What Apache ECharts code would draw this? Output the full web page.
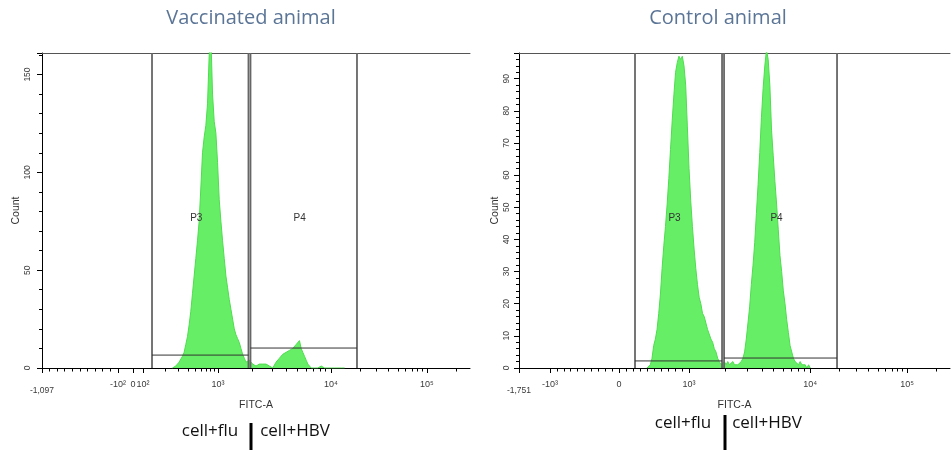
<!DOCTYPE html>
<html>
<head>
<meta charset="utf-8">
<title>FITC-A histograms</title>
<script src="https://cdn.jsdelivr.net/npm/echarts@6.0.0/dist/echarts.min.js"></script>
<style>
html, body { margin: 0; padding: 0; background: #fff; }
#chart { width: 951px; height: 450px; }
</style>
</head>
<body>
<div id="chart"></div>
<script>
// histogram counts per display channel (256-channel FITC-A scale)
var vacStart = 78;
var vacCounts = [0, 0, 1, 2, 3, 4, 6, 8, 12, 16, 22, 29, 38, 47, 56, 65, 75, 92, 110, 118,
  124, 135, 160, 170, 140, 126, 120, 105, 86, 75, 65, 56, 47, 41, 35, 30, 25, 20, 17, 15,
  13, 10, 7, 5, 3, 2, 4, 3, 2, 3, 1, 2, 2, 1, 2, 1, 2, 1, 1, 1,
  0, 1, 3, 4, 5, 6, 7, 7, 8, 8, 9, 9, 10, 11, 12, 13, 14, 10, 8, 6,
  4, 2, 1, 0, 1, 0, 1, 0, 0, 1, 0, 0, 0, 0, 0, 0, 1, 0, 0, 0, 0, 0, 1, 0];

var ctlStart = 76;
var ctlCounts = [0, 0, 1, 3, 7, 9, 12, 17, 23, 31, 38, 44, 51, 59, 68, 77, 85, 92, 95, 97,
  96, 97, 94, 88, 75, 62, 52, 44, 37, 31, 26, 22, 20, 17, 16, 14, 12, 12, 9, 8,
  6, 5, 3, 2, 1, 1, 2, 1, 2, 1, 1, 2, 1, 1, 1, 1, 2, 3, 5, 9,
  14, 19, 26, 32, 39, 48, 57, 67, 78, 87, 94, 99, 96, 88, 74, 66, 58, 51, 43, 35,
  30, 24, 20, 15, 11, 7, 5, 3, 2, 2, 1, 2, 1, 1, 1, 0, 1, 0];

// x axis anchors: FITC-A value, display channel, label
var vacTickValues = [-1097, -100, 0, 100, 1000, 10000, 100000];
var vacTickChannels = [0, 45.4, 54.4, 60.4, 105.2, 172.8, 230.2];
var vacTickLabels = ['-1,097', '-10²', '0', '10²', '10³', '10⁴', '10⁵'];

var ctlTickValues = [-1751, -1000, 0, 1000, 10000, 100000];
var ctlTickChannels = [0, 18.4, 59.4, 101, 172.9, 230.5];
var ctlTickLabels = ['-1,751', '-10³', '0', '10³', '10⁴', '10⁵'];

// gates: name, from channel, to channel, level (count)
var vacGates = [['P3', 65.8, 123.5, 6.6], ['P4', 124.7, 188.4, 10.2]];
var ctlGates = [['P3', 68.9, 120.6, 2.2], ['P4', 121.8, 188.9, 3.1]];

var vacMaxCount = 161;
var ctlMaxCount = 98;

function toChannel(v, vals, chans) {
  var i = 0;
  while (i < vals.length - 2 && v > vals[i + 1]) i++;
  var a = vals[i], b = vals[i + 1], t;
  if (a > 0 && b > 0) t = Math.log(v / a) / Math.log(b / a);
  else t = (v - a) / (b - a);
  return chans[i] + t * (chans[i + 1] - chans[i]);
}

function minorValues(negFrom, negTo, linPos) {
  var out = [];
  for (var v = negFrom; v <= negTo; v += 100) out.push(v);
  if (linPos) for (var p = 100; p <= 900; p += 100) out.push(p);
  var decades = linPos ? [1000, 10000, 100000] : [100, 1000, 10000, 100000];
  decades.forEach(function (d) {
    for (var k = 2; k <= 9; k++) {
      if (d === 100000 && k > 2) break;
      out.push(k * d);
    }
  });
  return out;
}

var vacMinor = minorValues(-1000, -200, false).map(function (v) {
  return toChannel(v, vacTickValues, vacTickChannels);
});
var ctlMinor = minorValues(-900, -100, true).map(function (v) {
  return toChannel(v, ctlTickValues, ctlTickChannels);
});

function histData(start, counts) {
  return counts.map(function (c, i) { return [start + i, c]; });
}

var labelFont = 'Arial, "Liberation Sans", "DejaVu Sans", sans-serif';

function xAxes(grid, chans, labels, minor) {
  return [{
    gridIndex: grid, type: 'value', min: 0, max: 256, position: 'bottom',
    axisLine: { show: true, onZero: false, lineStyle: { color: '#000', width: 1 } },
    axisTick: { show: true, customValues: chans, length: 5, lineStyle: { color: '#000' } },
    axisLabel: {
      customValues: chans, fontSize: 9, color: '#3a3a3a', margin: 12, fontFamily: labelFont,
      formatter: function (val) {
        for (var i = 0; i < chans.length; i++) {
          if (Math.abs(chans[i] - val) < 1e-6) return i === 0 ? '{lo|' + labels[i] + '}' : labels[i];
        }
        return '';
      },
      rich: { lo: { fontSize: 8.5, color: '#3a3a3a', fontFamily: labelFont, padding: [6, 0, 0, 0] } }
    },
    splitLine: { show: false },
    name: 'FITC-A', nameLocation: 'middle', nameGap: 26,
    nameTextStyle: { fontSize: 10.5, color: '#333', fontFamily: labelFont }
  }, {
    gridIndex: grid, type: 'value', min: 0, max: 256, position: 'bottom',
    axisLine: { show: false },
    axisTick: { show: true, customValues: minor, length: 3.5, lineStyle: { color: '#000' } },
    axisLabel: { show: false },
    splitLine: { show: false }
  }, {
    gridIndex: grid, type: 'value', min: 0, max: 256, position: 'top',
    axisLine: { show: true, onZero: false, lineStyle: { color: '#555', width: 1 } },
    axisTick: { show: false }, axisLabel: { show: false }, splitLine: { show: false }
  }];
}

function yAxis(grid, max, interval, margin, gap) {
  return {
    gridIndex: grid, type: 'value', min: 0, max: max, interval: interval,
    axisLine: { show: true, lineStyle: { color: '#000', width: 1 } },
    axisTick: { show: true, length: 5, lineStyle: { color: '#000' } },
    minorTick: { show: true, splitNumber: 5, length: 3, lineStyle: { color: '#000' } },
    splitLine: { show: false }, minorSplitLine: { show: false },
    axisLabel: { rotate: 90, fontSize: 8.5, color: '#3a3a3a', margin: margin, showMaxLabel: false, fontFamily: labelFont },
    name: 'Count', nameLocation: 'middle', nameRotate: 90, nameGap: gap,
    nameTextStyle: { fontSize: 10.5, color: '#333', fontFamily: labelFont }
  };
}

function histSeries(xi, yi, start, counts) {
  return {
    type: 'line', xAxisIndex: xi, yAxisIndex: yi, data: histData(start, counts),
    symbol: 'none', silent: true, z: 2,
    lineStyle: { color: '#4fdc4f', width: 1 },
    areaStyle: { color: '#66ef66', opacity: 1 }
  };
}

function gateSeries(xi, yi, gates) {
  return {
    type: 'custom', xAxisIndex: xi, yAxisIndex: yi, silent: true, z: 5,
    data: gates.map(function (g) { return [g[1], g[2], g[3]]; }),
    renderItem: function (params, api) {
      var cs = params.coordSys;
      var a = api.coord([api.value(0), 0])[0];
      var b = api.coord([api.value(1), 0])[0];
      var h = api.coord([api.value(0), api.value(2)])[1];
      var top = cs.y, bottom = cs.y + cs.height;
      return {
        type: 'group',
        children: [
          { type: 'line', shape: { x1: a, y1: top, x2: a, y2: bottom }, style: { stroke: '#666', lineWidth: 1.8 } },
          { type: 'line', shape: { x1: b, y1: top, x2: b, y2: bottom }, style: { stroke: '#666', lineWidth: 1.8 } },
          { type: 'line', shape: { x1: a, y1: h, x2: b, y2: h }, style: { stroke: '#333', lineWidth: 1 } },
          { type: 'text', x: (a + b) / 2 - 4, y: top + cs.height / 2 + 8,
            style: { text: gates[params.dataIndex][0], fontSize: 10, fontFamily: labelFont, fill: '#333', align: 'center', verticalAlign: 'middle' } }
        ]
      };
    }
  };
}

var chart = echarts.init(document.getElementById('chart'));
chart.setOption({
  animation: false,
  backgroundColor: '#fff',
  grid: [
    { left: 42, top: 53, width: 428, height: 315, outerBoundsMode: 'none' },
    { left: 519, top: 53, width: 431, height: 315, outerBoundsMode: 'none' }
  ],
  xAxis: xAxes(0, vacTickChannels, vacTickLabels, vacMinor)
    .concat(xAxes(1, ctlTickChannels, ctlTickLabels, ctlMinor)),
  yAxis: [yAxis(0, vacMaxCount, 50, 10, 19), yAxis(1, ctlMaxCount, 10, 8, 16)],
  series: [
    histSeries(0, 0, vacStart, vacCounts),
    gateSeries(0, 0, vacGates),
    histSeries(3, 1, ctlStart, ctlCounts),
    gateSeries(3, 1, ctlGates)
  ],
  graphic: [
    { type: 'text', x: 251, y: 18, style: { text: 'Vaccinated animal', fontSize: 20, fontFamily: '"Open Sans"', fill: '#5b7597', align: 'center', verticalAlign: 'middle' } },
    { type: 'text', x: 718, y: 18, style: { text: 'Control animal', fontSize: 20, fontFamily: '"Open Sans"', fill: '#5b7597', align: 'center', verticalAlign: 'middle' } },
    { type: 'text', x: 210, y: 431, style: { text: 'cell+flu', fontSize: 17, fontFamily: '"Open Sans"', fill: '#111', align: 'center', verticalAlign: 'middle' } },
    { type: 'text', x: 295, y: 431, style: { text: 'cell+HBV', fontSize: 17, fontFamily: '"Open Sans"', fill: '#111', align: 'center', verticalAlign: 'middle' } },
    { type: 'line', shape: { x1: 251, y1: 423, x2: 251, y2: 450 }, style: { stroke: '#000', lineWidth: 3 } },
    { type: 'text', x: 683, y: 423, style: { text: 'cell+flu', fontSize: 17, fontFamily: '"Open Sans"', fill: '#111', align: 'center', verticalAlign: 'middle' } },
    { type: 'text', x: 767, y: 423, style: { text: 'cell+HBV', fontSize: 17, fontFamily: '"Open Sans"', fill: '#111', align: 'center', verticalAlign: 'middle' } },
    { type: 'line', shape: { x1: 725, y1: 415, x2: 725, y2: 450 }, style: { stroke: '#000', lineWidth: 3 } }
  ]
});
</script>
</body>
</html>
